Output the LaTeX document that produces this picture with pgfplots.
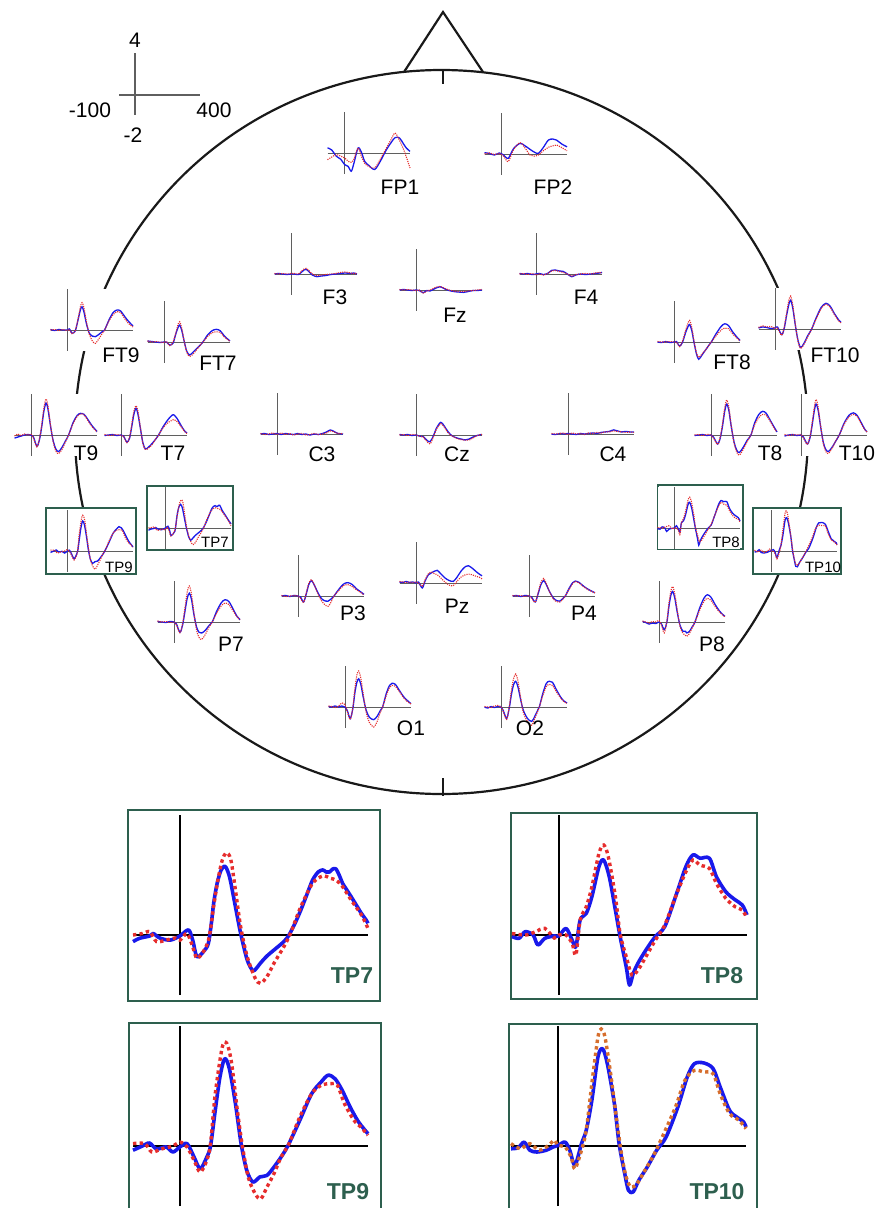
\documentclass[border=0pt]{standalone}
\usepackage{pgfplots}
\pgfplotsset{compat=1.18}
\usepackage{pgfplotstable}
\usepackage{fontspec}
\setmainfont{Liberation Sans}
\definecolor{eblue}{RGB}{25,25,235}
\definecolor{ered}{RGB}{230,45,45}
\definecolor{eorange}{RGB}{214,110,45}
\definecolor{egreen}{RGB}{45,95,78}
\definecolor{axgray}{RGB}{95,95,95}
\definecolor{headline}{RGB}{25,25,25}

\pgfplotsset{
  erpbase/.style={scale only axis, anchor=south west,
    xmin=-100, xmax=400, ymin=-2, ymax=4,
    axis line style={draw=none}, ticks=none, clip=false},
  erpsmall/.style={erpbase, width=82.5pt, height=61.8pt, axis background/.style={fill=white}},
  erpbig/.style={erpbase, width=235pt, height=180pt},
  bS/.style={draw=eblue, line width=1.3pt, smooth, tension=0.5, no markers},
  rS/.style={draw=ered, line width=1.1pt, dash pattern=on 1.1pt off 1.1pt, smooth, tension=0.5, no markers},
  bB/.style={draw=eblue, line width=3.6pt, smooth, tension=0.5, no markers, line join=round},
  rB/.style={draw=ered, line width=3.4pt, dash pattern=on 3.4pt off 3.2pt, smooth, tension=0.5, no markers},
}

% ---------------- head channels: x (ms), b = blue, r = red (microvolt)
\pgfplotstableread{
x b r
-100 0.5 -0.65
-75 0.3 -0.4
-46 -0.32 -0.16
-20 -0.6 -0.3
4 -1.13 -0.48
25 -1.3 -0.8
44 -1.77 -0.9
60 -1.0 -0.6
85 0.48 0.48
105 0.1 -0.3
125 -0.8 -1.0
150 -1.2 -1.3
186 -1.6 -1.45
220 -0.8 -0.6
257 0.32 0.48
285 1.0 1.3
310 1.5 1.94
337 1.45 1.2
360 0.9 0.4
378 0.48 -0.4
400 0.16 -1.45
}\tFPone
\pgfplotstableread{
x b r
-100 0.13 0
-70 0.05 0.1
-40 -0.1 -0.05
-10 0.1 0.05
15 -0.1 -0.2
44 -0.42 -0.74
75 0.5 0.4
115 1.03 1.1
145 0.8 0.6
176 0.45 -0.1
200 0.2 -0.2
226 0.06 -0.1
255 0.6 0.3
287 1.35 0.65
315 1.45 0.8
337 1.35 0.87
370 0.95 0.6
400 0.7 0.32
}\tFPtwo
\pgfplotstableread{
x b r
-100 0 0.05
-75 0.05 0
-50 0 0.05
-25 -0.05 0
0 0 0.05
20 0 0.05
45 -0.05 0
65 0.2 0.3
80 0.4 0.5
93 0.45 0.55
110 0.2 0.3
130 -0.1 0
157 -0.26 -0.15
180 -0.2 -0.1
210 -0.15 -0.05
240 -0.05 0
270 0 0.05
300 0.05 0.15
330 0.1 0.2
360 0.05 0.1
380 0.1 0.05
400 0 0.05
}\tFthree
\pgfplotstableread{
x b r
-100 0 0.05
-75 0.05 0
-50 0 0.05
-25 -0.05 0
0 0 -0.05
20 -0.05 0
44 -0.26 -0.3
65 -0.05 -0.1
85 -0.1 0
110 0.1 0.2
145 0.32 0.35
175 0.1 0.15
200 -0.05 0
230 -0.15 -0.1
260 -0.2 -0.15
287 -0.23 -0.15
315 -0.15 -0.1
345 -0.05 -0.05
370 -0.05 0
400 0 0.05
}\tFz
\pgfplotstableread{
x b r
-100 0.05 0
-75 0 0.05
-50 0.05 -0.05
-25 -0.05 0.05
0 0 -0.1
20 0.05 0
45 -0.05 -0.1
70 0.05 0.05
95 0.35 0.3
115 0.39 0.35
140 0.3 0.25
165 0.25 0.15
190 0 0
216 -0.26 -0.2
240 -0.1 -0.05
270 0 0
300 -0.05 0.05
330 0 0
360 0.05 0.1
385 0.1 0.15
400 0.16 0.1
}\tFfour
\pgfplotstableread{
x b r
-100 0.05 0
-75 -0.05 0.05
-50 0.05 -0.05
-25 0 0.05
0 0 -0.05
15 0.1 0.05
30 -0.3 -0.35
50 -0.1 -0.05
70 1.2 1.3
82 2.0 2.3
91 2.26 2.65
102 1.8 2.2
118 0.6 0.8
135 -0.3 -0.4
155 -0.6 -1.1
172 -0.65 -1.3
195 -0.4 -0.8
215 -0.15 -0.3
228 0 0
255 1.0 0.9
280 1.7 1.5
303 1.94 1.77
325 1.85 1.7
350 1.3 1.1
375 0.8 0.6
400 0.4 0.3
}\tFTnine
\pgfplotstableread{
x b r
-100 0.1 0.1
-75 0.05 0
-50 0 0.05
-25 -0.05 0
0 0 -0.05
15 0 0.05
35 -0.3 -0.35
55 -0.1 0
72 0.8 0.9
85 1.4 1.7
95 1.65 1.97
108 1.1 1.3
122 0.1 0.1
138 -0.9 -1.0
155 -1.26 -1.4
175 -1.0 -1.2
200 -0.6 -0.7
220 -0.3 -0.3
236 0 0
265 0.7 0.55
292 1.1 0.9
317 1.23 1.0
340 1.1 0.95
365 0.6 0.5
385 0.3 0.25
400 0.1 0.05
}\tFTseven
\pgfplotstableread{
x b r
-100 0 0.05
-75 -0.05 0
-50 0.05 0
-25 -0.05 0.05
0 0 0
15 0.05 0
34 -0.4 -0.45
52 0 0.1
70 0.9 1.1
85 1.5 1.85
95 1.7 2.1
108 1.1 1.4
122 -0.1 0
137 -1.2 -1.1
150 -1.68 -1.5
168 -1.3 -1.2
190 -0.8 -0.8
210 -0.35 -0.35
226 0 0
255 0.8 0.6
285 1.5 1.15
307 1.77 1.35
330 1.6 1.3
355 1.0 0.8
380 0.5 0.4
400 0.16 0.1
}\tFTeight
\pgfplotstableread{
x b r
-100 0.1 0.15
-75 0.2 0.3
-50 0.15 0.2
-25 0.05 0.25
0 0.1 0.05
15 0.2 0.1
40 -0.55 -0.6
55 0 0.1
70 1.3 1.5
84 2.4 2.8
95 2.8 3.2
108 2.0 2.3
122 0.5 0.6
138 -1.0 -1.1
155 -1.8 -1.9
175 -1.4 -1.5
200 -0.6 -0.7
222 0 0
250 1.1 1.0
280 2.1 2.0
309 2.5 2.4
335 2.2 2.1
360 1.5 1.4
385 0.9 0.8
400 0.65 0.6
}\tFTten
\pgfplotstableread{
x b r
-100 -0.3 -0.1
-80 -0.2 0.1
-60 -0.1 -0.05
-40 0 0.1
-20 0.05 0
0 0 0.05
15 -0.2 -0.3
36 -1.1 -1.15
52 -0.4 -0.3
65 0.8 1.0
78 2.3 2.6
91 3.1 3.5
103 2.5 2.8
118 0.9 1.0
135 -0.6 -0.7
152 -1.4 -1.6
168 -1.6 -1.8
188 -1.2 -1.4
208 -0.6 -0.7
228 0 0
255 1.2 1.1
280 1.9 1.8
300 2.1 2.05
322 2.0 1.95
345 1.5 1.4
370 0.9 0.8
400 0.35 0.3
}\tTnine
\pgfplotstableread{
x b r
-100 -0.05 0.05
-75 0 -0.05
-50 0.05 0
-25 -0.05 0.05
0 0 -0.05
15 -0.1 -0.1
36 -0.7 -0.75
52 -0.3 -0.2
65 0.8 1.0
78 2.0 2.3
91 2.6 2.85
103 2.0 2.3
118 0.6 0.7
132 -0.7 -0.8
147 -1.35 -1.4
165 -1.2 -1.3
190 -0.8 -0.9
210 -0.4 -0.4
228 0 0
255 0.8 0.7
285 1.5 1.2
305 1.85 1.4
319 1.97 1.5
340 1.6 1.3
365 0.9 0.8
385 0.4 0.35
400 0.2 0.15
}\tTseven
\pgfplotstableread{
x b r
-100 -0.05 0
-75 0 0.05
-50 0.05 -0.05
-25 -0.05 0.05
0 0 0
15 -0.2 -0.3
40 -0.87 -0.9
56 -0.3 -0.2
70 0.9 1.1
83 2.3 2.6
95 3.0 3.4
108 2.4 2.7
122 0.9 1.0
140 -0.7 -0.8
157 -1.5 -1.7
172 -1.7 -1.95
195 -1.2 -1.4
220 -0.5 -0.6
242 0 0
265 1.2 1.0
290 2.0 1.7
313 2.3 2.0
335 2.1 1.9
360 1.4 1.3
385 0.7 0.6
400 0.3 0.3
}\tTeight
\pgfplotstableread{
x b r
-100 -0.1 0.05
-75 0 -0.05
-50 0.05 0.05
-25 -0.05 0
0 0 0.05
15 -0.2 -0.3
38 -0.87 -0.9
54 -0.3 -0.2
67 0.9 1.1
80 2.3 2.6
91 3.0 3.45
104 2.4 2.7
118 0.9 1.0
135 -0.7 -0.8
150 -1.4 -1.6
166 -1.6 -1.8
188 -1.2 -1.3
210 -0.6 -0.6
232 0 0
260 1.1 1.0
290 1.9 1.75
317 2.15 2.0
340 1.9 1.8
365 1.2 1.1
385 0.6 0.55
400 0.3 0.3
}\tTten
\pgfplotstableread{
x b r
-100 0 0.05
-75 0.05 -0.05
-50 -0.05 0
-25 0 0.1
0 0.05 -0.05
25 -0.05 0.1
50 0.05 -0.05
75 0 0.05
100 -0.05 -0.1
125 0.05 0
150 -0.05 0.05
175 0 -0.1
200 -0.1 -0.05
225 0 0.05
250 -0.05 -0.05
275 0.05 0
300 0.2 0.1
323 0.39 0.3
345 0.25 0.2
370 0.05 0.05
400 0 0.05
}\tCthree
\pgfplotstableread{
x b r
-100 0.05 0
-75 0 0.05
-50 0.05 -0.05
-25 -0.05 0.05
0 0 0
20 -0.1 -0.1
44 -0.16 -0.2
65 -0.5 -0.6
85 -0.65 -0.87
105 -0.1 -0.2
125 0.7 0.6
150 1.23 1.1
170 0.9 0.8
195 0.3 0.2
220 -0.1 -0.1
250 -0.3 -0.35
275 -0.4 -0.45
297 -0.48 -0.5
320 -0.4 -0.5
345 -0.2 -0.3
370 -0.05 -0.05
400 0.06 0.05
}\tCz
\pgfplotstableread{
x b r
-100 0 0.05
-75 -0.05 0
-50 0.05 0.05
-25 0 0.1
0 0.05 -0.05
25 0 0.1
50 -0.05 0
75 0.05 0.05
100 0 -0.05
125 0.05 0.1
150 0.1 0.05
175 0.05 0.15
200 0.15 0.1
225 0.2 0.2
250 0.25 0.2
277 0.4 0.3
300 0.3 0.25
325 0.2 0.2
350 0.25 0.15
375 0.2 0.2
400 0.2 0.15
}\tCfour
\pgfplotstableread{
x b r
-100 0 0.05
-75 0.05 -0.05
-50 -0.05 0
-25 0.05 0.05
0 0 0
15 -0.1 -0.2
34 -0.58 -0.6
50 0.2 0.3
65 1.1 1.2
81 1.5 1.6
98 1.1 1.1
118 0.4 0.3
140 -0.2 -0.4
160 -0.45 -0.8
182 -0.5 -1.0
200 -0.3 -0.6
218 0 0
245 0.6 0.5
275 1.15 1.0
303 1.3 1.1
330 1.1 0.9
355 0.7 0.6
380 0.4 0.35
400 0.16 0.1
}\tPthree
\pgfplotstableread{
x b r
-100 0.1 0.15
-80 0.05 0.1
-60 0.15 0.05
-40 0.05 0.1
-20 0.1 0.05
0 0 0.1
15 0.1 0
38 -0.48 -0.3
55 0.2 0.3
75 0.8 0.9
95 1.0 1.06
112 1.15 0.9
129 1.23 0.8
150 0.9 0.5
175 0.5 0.1
200 0.25 -0.2
226 0.16 -0.26
250 0.6 0.2
275 1.2 0.6
300 1.6 0.8
317 1.68 0.87
340 1.45 0.8
365 1.1 0.65
385 0.85 0.55
400 0.7 0.4
}\tPz
\pgfplotstableread{
x b r
-100 0 0.05
-75 0.05 0
-50 -0.05 0.05
-25 0.05 -0.05
0 0 0.05
15 -0.1 -0.2
38 -0.58 -0.6
55 0.2 0.3
72 1.1 1.3
89 1.5 1.7
105 1.1 1.2
125 0.4 0.4
148 -0.2 -0.3
168 -0.45 -0.55
186 -0.5 -0.6
205 -0.25 -0.3
220 0 0
245 0.8 0.7
265 1.3 1.2
281 1.45 1.4
305 1.3 1.25
335 0.9 0.85
365 0.6 0.55
400 0.32 0.3
}\tPfour
\pgfplotstableread{
x b r
-100 0.05 0.1
-75 0 0
-50 -0.05 0.05
-25 0.05 -0.05
0 0 0
15 -0.2 -0.3
36 -1.0 -1.05
52 -0.3 -0.2
66 1.0 1.3
80 2.3 2.9
93 2.8 3.5
106 2.2 2.7
120 0.8 1.0
137 -0.5 -0.8
152 -1.0 -1.5
168 -1.07 -1.7
190 -0.8 -1.2
212 -0.35 -0.5
232 0 0
260 1.1 0.9
288 1.9 1.6
309 2.16 1.84
332 2.0 1.7
357 1.3 1.1
380 0.6 0.55
400 0.23 0.2
}\tPseven
\pgfplotstableread{
x b r
-100 0.05 0.1
-80 -0.05 0
-60 -0.2 -0.1
-40 -0.1 0.05
-20 -0.15 0
0 0 0.15
15 -0.2 -0.3
32 -0.74 -1.06
48 0 0.1
60 1.5 1.8
72 2.6 3.0
83 2.97 3.45
96 2.3 2.7
110 1.0 1.2
127 -0.3 -0.4
145 -0.9 -1.1
160 -0.9 -1.3
168 -1.06 -1.4
185 -0.9 -1.1
200 -0.5 -0.6
218 0 0
245 1.3 1.1
272 2.3 2.0
293 2.65 2.3
315 2.4 2.1
340 1.7 1.5
365 1.1 1.0
385 0.75 0.7
400 0.55 0.5
}\tPeight
\pgfplotstableread{
x b r
-100 0.05 0.1
-80 0 0.05
-60 0.1 -0.05
-40 0 0.05
-20 0.1 0.4
0 0 0.2
15 -0.4 -0.5
32 -1.13 -1.2
48 -0.1 0
60 1.4 1.8
72 2.4 3.1
83 2.74 3.5
96 2.2 2.8
110 1.0 1.3
128 -0.3 -0.5
148 -1.0 -1.5
174 -1.23 -1.94
195 -0.9 -1.4
212 -0.4 -0.6
228 0 0
250 1.3 1.1
270 2.1 1.9
285 2.3 2.1
305 2.2 2.0
330 1.6 1.5
355 1.0 0.9
380 0.6 0.5
400 0.32 0.3
}\tOone
\pgfplotstableread{
x b r
-100 0 0.05
-80 -0.1 0
-60 0.05 -0.05
-40 -0.05 0.1
-20 0.05 0.15
0 0 0.05
15 -0.4 -0.5
34 -1.13 -1.2
50 -0.1 0
64 1.3 1.7
77 2.2 2.8
89 2.5 3.2
102 2.0 2.6
118 0.8 1.0
135 -0.3 -0.5
160 -1.1 -1.4
186 -1.4 -1.77
205 -0.9 -1.1
220 -0.4 -0.5
232 0 0
255 1.4 1.2
275 2.3 2.0
293 2.5 2.2
312 2.4 2.1
335 1.7 1.5
360 1.0 0.9
380 0.6 0.55
400 0.39 0.35
}\tOtwo

% ---------------- TP channels (used in the head and in the enlarged panels)
\pgfplotstableread{
x y
-100 -0.22
-86 -0.11
-64 -0.03
-57 0.05
-43 -0.10
-21 -0.17
0 -0.03
18 0.17
27 -0.17
36 -0.72
50 -0.55
60 -0.3
66 0.3
72 1.1
79 1.72
87 2.15
95 2.3
101 2.15
107 1.83
118 0.94
129 0.06
143 -0.83
155 -1.19
163 -1.1
171 -0.94
185 -0.7
200 -0.5
221 -0.22
232 0
245 0.4
257 0.83
270 1.35
282 1.83
294 2.1
304 2.17
311 2.1
318 2.1
325 2.2
332 2.2
340 1.95
346 1.72
355 1.5
364 1.28
375 1.0
386 0.72
396 0.5
400 0.39
}\tTPsevenB
\pgfplotstableread{
x y
-100 0
-80 0.05
-64 0.11
-50 -0.22
-30 -0.17
-10 -0.1
0 -0.17
15 0.05
27 -0.39
36 -0.78
50 -0.55
60 -0.2
66 0.3
72 1.0
82 1.94
90 2.5
97 2.72
103 2.7
109 2.45
118 1.5
129 0.28
143 -0.72
160 -1.44
171 -1.61
185 -1.39
200 -0.94
221 -0.39
235 0.05
257 0.94
282 1.72
304 1.97
320 1.89
332 1.83
346 1.61
364 1.17
386 0.67
400 0.22
}\tTPsevenR
\pgfplotstableread{
x y
-100 -0.05
-85 -0.11
-72 0.11
-55 0
-45 -0.33
-30 -0.11
-10 -0.03
0 -0.03
15 0.22
28 -0.17
36 -0.39
45 0.5
58 0.72
70 1.28
85 2.28
95 2.5
107 1.94
120 0.83
130 -0.05
143 -1.06
150 -1.67
158 -1.28
168 -0.94
185 -0.5
205 -0.05
225 0.28
248 1.28
270 2.28
285 2.67
300 2.56
320 2.56
335 1.94
355 1.44
375 1.17
390 1.0
400 0.67
}\tTPeightB
\pgfplotstableread{
x y
-100 0.05
-70 0
-50 0.11
-30 0.22
-10 -0.1
0 0
15 0
28 -0.28
36 -0.67
45 0.5
58 0.94
70 1.61
85 2.72
95 3.0
105 2.6
120 1.28
130 0.05
143 -0.72
155 -1.33
168 -1.17
185 -0.72
205 -0.17
225 0.33
248 1.28
270 2.11
285 2.5
300 2.33
320 2.22
335 1.72
355 1.22
375 0.94
390 0.83
400 0.56
}\tTPeightR
\pgfplotstableread{
x y
-100 -0.14
-80 0
-65 0.1
-50 -0.1
-30 -0.03
-15 -0.2
0 -0.03
15 0.08
30 -0.37
43 -0.76
57 -0.37
65 0
75 1.19
85 2.3
95 2.91
105 2.58
118 1.41
130 0.08
142 -0.81
155 -1.2
170 -1.03
185 -0.98
200 -0.7
215 -0.37
230 0.02
255 0.86
280 1.74
300 2.13
315 2.36
330 2.24
345 1.86
362 1.3
380 0.8
400 0.41
}\tTPnineB
\pgfplotstableread{
x y
-100 0.08
-75 0.08
-60 -0.2
-40 -0.1
-15 0
0 0.13
15 -0.03
30 -0.48
43 -0.87
57 -0.48
65 0.08
75 1.74
90 3.3
100 3.41
110 2.74
122 1.19
132 0.08
145 -1.03
160 -1.59
172 -1.76
185 -1.37
200 -0.92
215 -0.37
232 0.08
255 0.97
280 1.74
300 2.02
320 2.08
335 2.02
350 1.41
370 0.86
385 0.63
400 0.36
}\tTPnineR
\pgfplotstableread{
x y
-100 -0.09
-85 -0.06
-72 0.13
-60 -0.14
-45 -0.2
-25 -0.14
-10 -0.03
0 0.02
15 0.13
25 -0.14
36 -0.64
50 0.08
60 0.52
72 1.52
85 2.97
95 3.24
105 2.74
120 1.41
130 0.08
142 -0.92
150 -1.48
160 -1.53
172 -1.14
190 -0.7
210 -0.14
230 0.3
255 1.3
275 2.3
290 2.74
310 2.77
330 2.58
345 1.97
365 1.19
380 0.97
395 0.8
400 0.63
}\tTPtenB
\pgfplotstableread{
x y
-100 0.08
-80 -0.09
-60 0.08
-40 -0.14
-20 0.02
-8 0.19
0 0.02
15 -0.03
28 -0.37
36 -0.76
50 -0.14
60 0.52
72 2.08
85 3.63
92 3.9
100 3.63
112 2.41
125 0.86
135 -0.26
145 -1.03
155 -1.37
168 -1.26
185 -0.81
205 -0.26
225 0.41
250 1.3
270 2.19
290 2.52
310 2.47
330 2.41
345 1.74
365 1.08
385 0.86
400 0.58
}\tTPtenR

% ---------------- drawing macros (coordinates in pixels from the top left corner)
\newcommand{\erpS}[3]{%
  \begin{axis}[erpsmall, at={(#1pt-16.5pt,-#2pt-20.6pt)}]
    \draw[axgray, line width=0.9pt] (axis cs:0,-2) -- (axis cs:0,4);
    \draw[axgray, line width=0.9pt] (axis cs:-100,0) -- (axis cs:400,0);
    \addplot[bS] table[x=x,y=b] {#3};
    \addplot[rS] table[x=x,y=r] {#3};
  \end{axis}}
\newcommand{\erpT}[4]{%
  \begin{axis}[erpsmall, at={(#1pt-16.5pt,-#2pt-20.6pt)}]
    \draw[axgray, line width=0.9pt] (axis cs:0,-2) -- (axis cs:0,4);
    \draw[axgray, line width=0.9pt] (axis cs:-100,0) -- (axis cs:400,0);
    \addplot[bS] table {#3};
    \addplot[rS] table {#4};
  \end{axis}}
\newcommand{\erpB}[5]{%
  \begin{axis}[erpbig, at={(#1pt-47pt,-#2pt-60pt)}]
    \draw[black, line width=2.2pt] (axis cs:0,-2) -- (axis cs:0,4);
    \draw[black, line width=2.2pt] (axis cs:-100,0) -- (axis cs:400,0);
    \addplot[bB] table {#3};
    \addplot[rB, draw=#5] table {#4};
  \end{axis}}
\newcommand{\lab}[3]{\node[font=\fontsize{21}{21}\selectfont, inner sep=0pt, text=black] at (#1pt,-#2pt) {#3};}
\newcommand{\slab}[3]{\node[font=\fontsize{15}{15}\selectfont, inner sep=0pt, text=black] at (#1pt,-#2pt) {#3};}
\newcommand{\blab}[3]{\node[font=\fontsize{23}{23}\selectfont\bfseries, inner sep=0pt, text=egreen] at (#1pt,-#2pt) {#3};}

\begin{document}
\begin{tikzpicture}
\useasboundingbox (0pt,0pt) rectangle (886pt,-1208pt);
% head outline, nose and midline ticks
\draw[headline, line width=2.2pt] (441.5pt,-432pt) ellipse [x radius=366.5pt, y radius=362pt];
\draw[headline, line width=2.2pt, line join=miter] (404pt,-72pt) -- (443pt,-12pt) -- (483pt,-72pt);
\draw[headline, line width=2pt] (443pt,-70pt) -- (443pt,-84pt);
\draw[headline, line width=2pt] (443pt,-778pt) -- (443pt,-796pt);
% scale
\draw[axgray, line width=1.2pt] (135pt,-53pt) -- (135pt,-115pt);
\draw[axgray, line width=1.2pt] (119pt,-95pt) -- (200pt,-95pt);
\lab{135}{40}{4}
\lab{90}{110}{-100}
\lab{214}{110}{400}
\lab{133}{135}{-2}

% boxed small panels frames
\draw[egreen, line width=2pt, fill=white] (46pt,-508pt) rectangle (136pt,-574pt);
\draw[egreen, line width=2pt, fill=white] (147pt,-486pt) rectangle (233pt,-550pt);
\draw[egreen, line width=2pt, fill=white] (658pt,-485pt) rectangle (743pt,-549pt);
\draw[egreen, line width=2pt, fill=white] (753pt,-508pt) rectangle (841pt,-574pt);

% head channels
\erpS{344}{153}{\tFPone}
\erpS{501}{154}{\tFPtwo}
\erpS{291}{274}{\tFthree}
\erpS{416}{290}{\tFz}
\erpS{536}{274}{\tFfour}
\erpS{67}{330}{\tFTnine}
\erpS{164}{342}{\tFTseven}
\erpS{674}{342}{\tFTeight}
\erpS{775}{329}{\tFTten}
\erpS{31}{435}{\tTnine}
\erpS{121}{435}{\tTseven}
\erpS{277}{434}{\tCthree}
\erpS{416}{435}{\tCz}
\erpS{568}{434}{\tCfour}
\erpS{711}{435}{\tTeight}
\erpS{801}{435}{\tTten}
\erpT{67}{551}{\tTPnineB}{\tTPnineR}
\erpT{165}{528}{\tTPsevenB}{\tTPsevenR}
\erpT{674}{528}{\tTPeightB}{\tTPeightR}
\erpT{771}{551}{\tTPtenB}{\tTPtenR}
\erpS{174}{622}{\tPseven}
\erpS{298}{596}{\tPthree}
\erpS{416}{583}{\tPz}
\erpS{529}{596}{\tPfour}
\erpS{659}{622}{\tPeight}
\erpS{345}{707}{\tOone}
\erpS{501}{707}{\tOtwo}

% channel labels
\lab{400}{187}{FP1}
\lab{553}{187}{FP2}
\lab{335}{297}{F3}
\lab{455}{315}{Fz}
\lab{586}{297}{F4}
\lab{121}{355}{FT9}
\lab{218}{363}{FT7}
\lab{732}{362}{FT8}
\lab{835}{355}{FT10}
\lab{86}{453}{T9}
\lab{173}{453}{T7}
\lab{322}{454}{C3}
\lab{457}{454}{Cz}
\lab{613}{454}{C4}
\lab{770}{453}{T8}
\lab{857}{453}{T10}
\slab{119}{567}{TP9}
\slab{215}{542}{TP7}
\slab{726}{542}{TP8}
\slab{823}{567}{TP10}
\lab{353}{613}{P3}
\lab{457}{606}{Pz}
\lab{584}{613}{P4}
\lab{231}{644}{P7}
\lab{712}{644}{P8}
\lab{411}{728}{O1}
\lab{530}{728}{O2}

% enlarged panels
\draw[egreen, line width=2pt] (128pt,-810pt) rectangle (380pt,-1001pt);
\draw[egreen, line width=2pt] (511pt,-813pt) rectangle (757pt,-999pt);
\draw[egreen, line width=2pt] (129pt,-1023pt) rectangle (381pt,-1220pt);
\draw[egreen, line width=2pt] (509pt,-1024pt) rectangle (757pt,-1220pt);
\erpB{180}{935}{\tTPsevenB}{\tTPsevenR}{ered}
\erpB{559}{935}{\tTPeightB}{\tTPeightR}{ered}
\erpB{180}{1146}{\tTPnineB}{\tTPnineR}{ered}
\erpB{558}{1146}{\tTPtenB}{\tTPtenR}{eorange}
\blab{352}{976}{TP7}
\blab{722}{976}{TP8}
\blab{348}{1192}{TP9}
\blab{717}{1192}{TP10}
\end{tikzpicture}
\end{document}
